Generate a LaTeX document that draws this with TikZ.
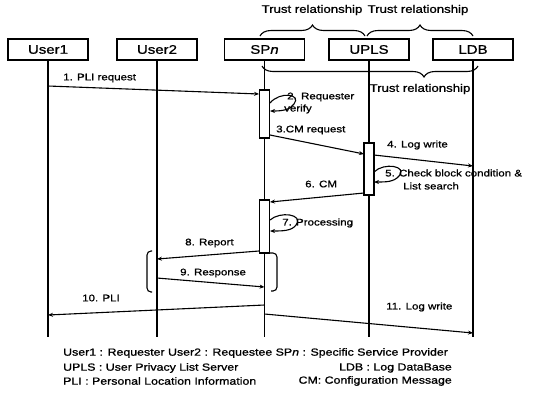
\documentclass[tikz,border=0pt]{standalone}
\usepackage{fontspec}
\setmainfont{Liberation Sans}[FakeStretch=1.2, FakeBold=1.0]
\usetikzlibrary{arrows.meta,decorations.pathreplacing}
\begin{document}
\begin{tikzpicture}[x=1pt,y=-1pt,
  actor/.style={draw, line width=1.3pt, minimum width=80pt, minimum height=21pt, inner sep=0pt, font=\fontsize{12.5}{14}\selectfont},
  actbox/.style={draw, fill=white, line width=1.1pt, minimum width=10.5pt, inner sep=0pt},
  life/.style={line width=1.1pt},
  msg/.style={line width=1.1pt, -{Stealth[length=5pt,width=4pt]}},
  lbl/.style={font=\fontsize{9.6}{11}\selectfont, inner sep=0pt, anchor=west},
  trust/.style={font=\fontsize{11}{13}\selectfont, inner sep=0pt},
  brc/.style={decorate, line width=1.1pt},
  leg/.style={font=\fontsize{10.3}{12}\selectfont, inner sep=0pt}
]
\useasboundingbox (0,0) rectangle (540,392);

% actors
\node[actor] (u1) at (48,49.5) {User1};
\node[actor] (u2) at (157,49.5) {User2};
\node[actor] (sp) at (264.5,49.5) {SP\textit{n}};
\node[actor] (upls) at (369,49.5) {UPLS};
\node[actor] (ldb) at (473,49.5) {LDB};

% lifeline ends
\coordinate (u1e) at (48,337);
\coordinate (u2e) at (157,337);
\coordinate (spe) at (264.5,337);
\coordinate (uplse) at (369,337);
\coordinate (ldbe) at (473,337);
\draw[life] (u1) -- (u1e);
\draw[life] (u2) -- (u2e);
\draw[life] (sp) -- (spe);
\draw[life] (upls) -- (uplse);
\draw[life] (ldb) -- (ldbe);

% activation boxes
\node[actbox, minimum height=48pt] (a1) at (264.5,114) {};
\node[actbox, minimum height=52pt, minimum width=10pt] (a2) at (369,169) {};
\node[actbox, minimum height=53pt] (a3) at (264.5,226.5) {};

% trust braces
\coordinate (b1a) at (260,36); \coordinate (b1b) at (365,36);
\coordinate (b2a) at (367,36); \coordinate (b2b) at (473,36);
\coordinate (b3a) at (262,66); \coordinate (b3b) at (478,66);
\draw[brc, decoration={brace, amplitude=11pt}] (b1a) -- (b1b);
\draw[brc, decoration={brace, amplitude=11pt}] (b2a) -- (b2b);
\draw[brc, decoration={brace, mirror, amplitude=11pt, aspect=0.75}] (b3a) -- (b3b);
\node[trust] (t1) at (312,10) {Trust relationship};
\node[trust] (t2) at (418,10) {Trust relationship};
\node[trust] (t3) at (420,89) {Trust relationship};

% message end points
\coordinate (m1a) at (48,86);    \coordinate (m1b) at (259,94);
\coordinate (m2a) at (270,103);  \coordinate (m2b) at (270,111);
\coordinate (m3a) at (270,135);  \coordinate (m3b) at (364,154);
\coordinate (m4a) at (374,155);  \coordinate (m4b) at (473,166);
\coordinate (m5a) at (374,172);  \coordinate (m5b) at (374,182);
\coordinate (m6a) at (364,193);  \coordinate (m6b) at (270,202);
\coordinate (m7a) at (270,220);  \coordinate (m7b) at (270,231);
\coordinate (m8a) at (259,251);  \coordinate (m8b) at (157,259);
\coordinate (m9a) at (157,278);  \coordinate (m9b) at (264.5,287);
\coordinate (m10a) at (264.5,305); \coordinate (m10b) at (48,315);
\coordinate (m11a) at (264.5,314); \coordinate (m11b) at (473,333);

\draw[msg] (m1a) -- (m1b);
\draw[msg] (m2a) .. controls (280,91) and (302,94) .. (294,104) .. controls (290,110) and (282,111) .. (m2b);
\draw[msg] (m3a) -- (m3b);
\draw[msg] (m4a) -- (m4b);
\draw[msg] (m5a) .. controls (384,162) and (408,166) .. (399,176) .. controls (394,182) and (386,182) .. (m5b);
\draw[msg] (m6a) -- (m6b);
\draw[msg] (m7a) .. controls (280,211) and (304,214) .. (296,225) .. controls (292,231) and (282,231) .. (m7b);
\draw[msg] (m8a) -- (m8b);
\draw[msg] (m9a) -- (m9b);
\draw[msg] (m10a) -- (m10b);
\draw[msg] (m11a) -- (m11b);

% brackets
\coordinate (k1a) at (152,251); \coordinate (k1b) at (152,292);
\coordinate (k2a) at (270,253); \coordinate (k2b) at (271,291);
\draw[life, rounded corners=4pt] (k1a) -| (147,292) -- (k1b);
\draw[life, rounded corners=4pt] (k2a) -| (277,291) -- (k2b);

% labels
\node[lbl] (l1) at (63,78) {1. PLI request};
\node[lbl] (l2) at (287,97) {2. Requester};
\node[lbl] (l2b) at (284,109) {verify};
\node[lbl] (l3) at (276,130) {3.CM request};
\node[lbl] (l4) at (387,145) {4. Log write};
\node[lbl] (l5) at (385,173) {5. Check block condition \&};
\node[lbl] (l5b) at (403,186) {List search};
\node[lbl] (l6) at (305,184) {6. CM};
\node[lbl] (l7) at (282,223) {7. Processing};
\node[lbl] (l8) at (185,243) {8. Report};
\node[lbl] (l9) at (180,273) {9. Response};
\node[lbl] (l10) at (82,298) {10. PLI};
\node[lbl] (l11) at (386,307) {11. Log write};

% legend
\node[leg, anchor=west] (lg1) at (63,353) {User1 : Requester User2 : Requestee SP\textit{n} : Specific Service Provider};
\node[leg, anchor=west] (lg2) at (63,368) {UPLS : User Privacy List Server};
\node[leg, anchor=east] (lg3) at (452,368) {LDB : Log DataBase};
\node[leg, anchor=west] (lg4) at (63,381) {PLI : Personal Location Information};
\node[leg, anchor=east] (lg5) at (452,381) {CM: Configuration Message};
\end{tikzpicture}
\end{document}
